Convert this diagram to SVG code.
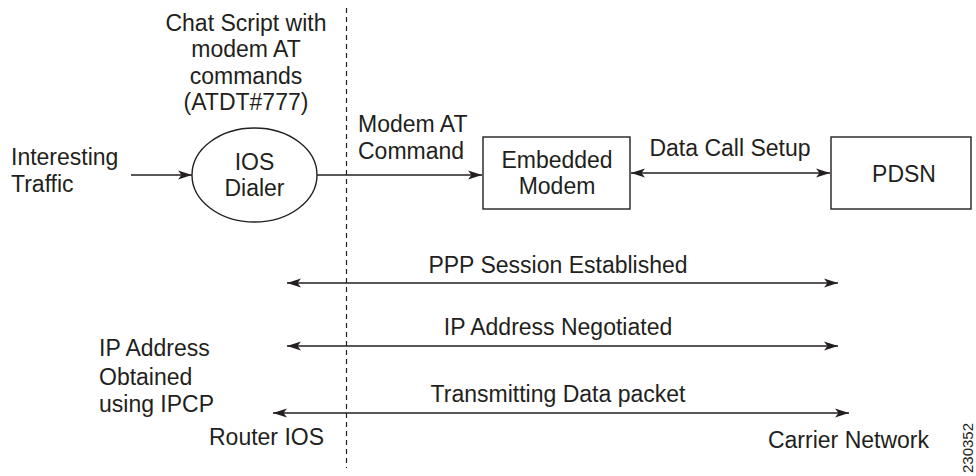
<svg xmlns="http://www.w3.org/2000/svg" width="976" height="476" viewBox="0 0 976 476">
<style>
text{font-family:"Liberation Sans",Arial,Helvetica,sans-serif;font-size:23px;fill:#231f20}
.m{text-anchor:middle}
.ln{stroke:#231f20;stroke-width:1.4;fill:none}
.shape{stroke:#231f20;stroke-width:1.4;fill:#fff}
.dash{stroke:#231f20;stroke-width:1.2;stroke-dasharray:5,4;fill:none}
</style>
<defs>
<marker id="ah" markerUnits="userSpaceOnUse" markerWidth="15" markerHeight="11" refX="14" refY="5.5" orient="auto-start-reverse">
<path d="M0,1 L14,5.5 L0,10 L3.5,5.5 z" fill="#231f20"/>
</marker>
</defs>
<rect width="976" height="476" fill="#fff"/>
<line class="dash" x1="346.5" y1="8" x2="346.5" y2="468"/>
<g id="chat-script-label">
<text class="m" x="246" y="31">Chat Script with</text>
<text class="m" x="246" y="57">modem AT</text>
<text class="m" x="246" y="84">commands</text>
<text class="m" x="246" y="110">(ATDT#777)</text>
</g>
<g id="interesting-traffic">
<text x="11" y="165">Interesting</text>
<text x="11" y="192">Traffic</text>
</g>
<g id="ios-dialer">
<ellipse class="shape" cx="254.5" cy="175" rx="62.5" ry="47"/>
<text class="m" x="254.5" y="170">IOS</text>
<text class="m" x="254.5" y="196">Dialer</text>
</g>
<g id="embedded-modem">
<rect class="shape" x="483" y="137" width="147" height="72"/>
<text class="m" x="557" y="168">Embedded</text>
<text class="m" x="557" y="194">Modem</text>
</g>
<g id="pdsn">
<rect class="shape" x="831" y="137" width="140" height="72"/>
<text class="m" x="904" y="182">PDSN</text>
</g>
<g id="connectors">
<line class="ln" x1="131" y1="175" x2="192" y2="175" marker-end="url(#ah)"/>
<line class="ln" x1="317" y1="175" x2="482" y2="175" marker-end="url(#ah)"/>
<line class="ln" x1="631" y1="173" x2="830" y2="173" marker-start="url(#ah)" marker-end="url(#ah)"/>
<line class="ln" x1="287" y1="283" x2="838" y2="283" marker-start="url(#ah)" marker-end="url(#ah)"/>
<line class="ln" x1="287" y1="346" x2="838" y2="346" marker-start="url(#ah)" marker-end="url(#ah)"/>
<line class="ln" x1="273" y1="413" x2="849" y2="413" marker-start="url(#ah)" marker-end="url(#ah)"/>
</g>
<g id="connector-labels">
<text x="358" y="132">Modem AT</text>
<text x="358" y="159">Command</text>
<text class="m" x="730" y="156">Data Call Setup</text>
<text class="m" x="558" y="273">PPP Session Established</text>
<text class="m" x="558" y="335">IP Address Negotiated</text>
<text class="m" x="558" y="402">Transmitting Data packet</text>
</g>
<g id="side-labels">
<text x="99" y="356">IP Address</text>
<text x="99" y="385">Obtained</text>
<text x="99" y="412">using IPCP</text>
<text x="209" y="445">Router IOS</text>
<text x="929" y="448" text-anchor="end">Carrier Network</text>
<text x="973" y="448" class="m" style="font-size:15px" transform="rotate(-90 973 448)">230352</text>
</g>
</svg>
